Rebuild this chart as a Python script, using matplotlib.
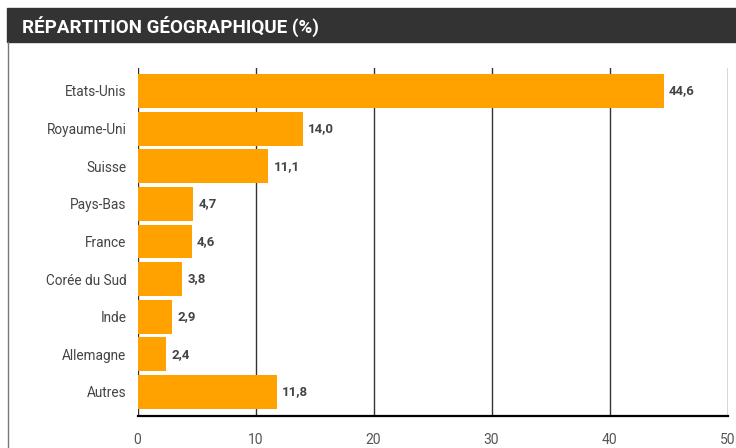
import matplotlib.pyplot as plt
from matplotlib.patches import Rectangle
from matplotlib.lines import Line2D

plt.rcParams['font.family'] = ['Roboto', 'DejaVu Sans']

pays = ['Etats-Unis', 'Royaume-Uni', 'Suisse', 'Pays-Bas', 'France',
        'Corée du Sud', 'Inde', 'Allemagne', 'Autres']
parts = [44.6, 14.0, 11.1, 4.7, 4.6, 3.8, 2.9, 2.4, 11.8]
ticks_x = [0, 10, 20, 30, 40, 50]

fig = plt.figure(figsize=(7.36, 4.48), dpi=100)

# bandeau du titre
fig.patches.append(Rectangle((7 / 736, 1 - 42 / 448), 1, 34 / 448,
                             transform=fig.transFigure, color='#333333', zorder=0))
fig.text(22 / 736, 1 - 26.5 / 448, 'RÉPARTITION GÉOGRAPHIQUE (%)', color='white',
         fontsize=13.5, fontweight='bold', va='center', ha='left')
# filet gauche
fig.lines.append(Line2D([7.5 / 736, 7.5 / 736], [0, 1 - 42 / 448],
                        transform=fig.transFigure, color='#777777', lw=1))

ax = fig.add_axes([137.5 / 736, 32 / 448, (727.5 - 137.5) / 736, (416 - 68) / 448])
ypos = list(range(len(pays)))
ax.barh(ypos, parts, height=0.9, color='#ffa200', zorder=2)
for y, v in zip(ypos, parts):
    ax.text(v + 0.45, y, f'{v:.1f}'.replace('.', ','), va='center', ha='left',
            fontsize=9.5, fontweight='bold', color='#444444')

ax.set_xlim(0, 50)
ax.set_ylim(8.64, -0.61)
ax.set_yticks(ypos)
ax.set_yticklabels(pays, fontsize=9.8, color='#444444')
ax.set_xticks(ticks_x)
ax.set_xticklabels([str(t) for t in ticks_x], fontsize=10, color='#555555')
ax.tick_params(length=0, axis='y', pad=8)
ax.tick_params(length=0, axis='x', pad=12)
ax.grid(axis='x', color='#333333', lw=1, zorder=1)
for s in ['top', 'right', 'left']:
    ax.spines[s].set_visible(False)
ax.spines['bottom'].set_color('black')
ax.spines['bottom'].set_linewidth(1.6)

fig.savefig('out.png', dpi=100)
